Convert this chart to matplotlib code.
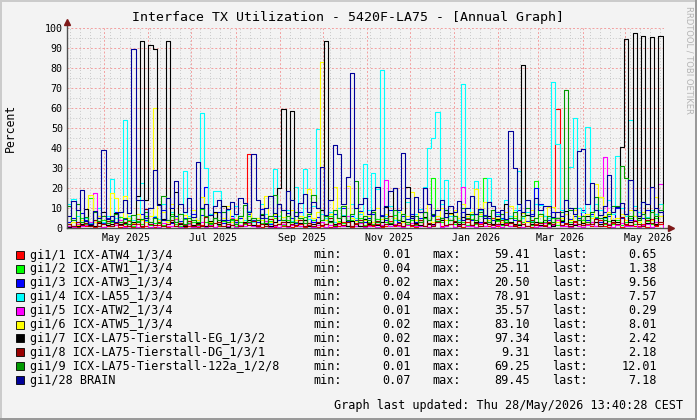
import numpy as np
import matplotlib
matplotlib.use("Agg")
from matplotlib import pyplot as plt
from matplotlib import dates as mdates
from matplotlib.patches import Rectangle

W, H = 697, 420  # output size in pixels
MONO = 'DejaVu Sans Mono'

# time axis: 3 day consolidated steps
start = np.datetime64('2025-04-05')
end = np.datetime64('2026-05-28')
step_days = 3

names = ['gi1/1 ICX-ATW4_1/3/4', 'gi1/2 ICX-ATW1_1/3/4', 'gi1/3 ICX-ATW3_1/3/4',
         'gi1/4 ICX-LA55_1/3/4', 'gi1/5 ICX-ATW2_1/3/4', 'gi1/6 ICX-ATW5_1/3/4',
         'gi1/7 ICX-LA75-Tierstall-EG_1/3/2', 'gi1/8 ICX-LA75-Tierstall-DG_1/3/1',
         'gi1/9 ICX-LA75-Tierstall-122a_1/2/8', 'gi1/28 BRAIN']
colors = ['#FF0000', '#00FF00', '#0000FF', '#00FFFF', '#FF00FF',
          '#FFFF00', '#000000', '#990000', '#009900', '#000099']
mins = [0.01, 0.04, 0.02, 0.04, 0.01, 0.02, 0.02, 0.01, 0.01, 0.07]
maxs = [59.41, 25.11, 20.50, 78.91, 35.57, 83.10, 97.34, 9.31, 69.25, 89.45]
lasts = [0.65, 1.38, 9.56, 7.57, 0.29, 8.01, 2.42, 2.18, 12.01, 7.18]

# percent values, one per 3 days
gi1_1 = [0.5, 1.0, 0.3, 2.0, 0.8, 1.5, 0.4, 3.0, 0.6, 1.2,
         0.8, 2.5, 0.4, 1.0, 3.5, 0.6, 1.8, 0.5, 1.0, 2.0,
         0.7, 1.5, 4.0, 0.5, 1.2, 0.9, 2.5, 0.4, 1.0, 3.0,
         0.6, 1.4, 0.8, 2.2, 0.5, 1.0, 3.5, 0.7, 1.5, 0.4,
         1.0, 2.0, 37.0, 0.8, 1.5, 0.5, 2.5, 1.0, 0.6, 1.8,
         0.9, 3.0, 0.5, 1.2, 2.0, 0.7, 1.5, 4.0, 0.6, 1.0,
         2.0, 0.5, 1.4, 0.8, 3.0, 1.0, 0.6, 2.5, 1.2, 0.7,
         1.5, 0.8, 2.0, 0.5, 1.0, 3.5, 0.9, 1.6, 0.4, 2.2,
         1.0, 0.6, 2.8, 1.2, 0.5, 1.5, 4.5, 0.8, 1.0, 2.0,
         0.7, 1.8, 0.5, 3.0, 1.2, 0.6, 2.0, 1.0, 0.8, 5.0,
         1.2, 0.6, 2.5, 0.9, 1.5, 0.5, 3.0, 1.0, 0.7, 2.0,
         0.8, 1.5, 0.6, 2.2, 59.4, 1.0, 1.8, 0.7, 3.0, 1.0,
         0.6, 2.0, 1.2, 0.8, 4.0, 1.0, 0.5, 2.5, 1.4, 0.7,
         1.5, 3.0, 0.8, 1.2, 2.0, 0.6, 4.5, 1.0, 1.8, 0.7]
gi1_2 = [2.0, 3.0, 1.5, 5.0, 2.0, 15.0, 3.0, 1.0, 4.0, 2.5,
         3.0, 1.5, 5.5, 2.0, 4.0, 1.0, 3.5, 2.0, 6.0, 1.5,
         2.5, 4.0, 1.5, 3.0, 7.0, 2.0, 1.0, 4.5, 2.5, 3.0,
         1.5, 9.5, 3.0, 2.0, 5.0, 1.5, 3.5, 2.0, 4.0, 1.0,
         3.0, 2.0, 6.0, 1.5, 4.0, 2.5, 1.0, 3.5, 5.0, 2.0,
         1.5, 4.0, 2.0, 3.0, 1.0, 5.5, 2.5, 4.0, 1.5, 3.0,
         2.0, 6.0, 1.5, 3.5, 2.5, 1.0, 4.0, 2.0, 5.0, 1.5,
         3.0, 2.0, 4.5, 1.5, 3.0, 2.5, 6.5, 1.0, 3.0, 2.0,
         4.0, 1.5, 3.0, 5.0, 2.0, 25.1, 6.0, 3.0, 1.5, 4.0,
         2.0, 5.0, 3.0, 1.5, 4.5, 2.0, 6.0, 24.8, 3.0, 2.0,
         3.5, 1.5, 4.0, 2.5, 5.0, 2.0, 3.0, 6.5, 1.5, 23.5,
         3.0, 3.0, 2.0, 5.0, 1.5, 4.0, 2.5, 3.0, 6.0, 2.0,
         4.0, 1.5, 3.0, 5.5, 15.5, 2.0, 3.5, 2.0, 4.0, 1.5,
         3.0, 5.0, 2.0, 4.0, 1.5, 3.5, 2.0, 5.0, 3.0, 1.4]
gi1_3 = [3.0, 5.0, 2.0, 7.5, 4.0, 1.5, 3.0, 6.0, 2.5, 5.0,
         3.5, 8.0, 2.0, 4.5, 6.0, 2.5, 3.0, 7.0, 4.0, 2.0,
         5.5, 3.0, 9.0, 4.0, 2.5, 6.0, 3.5, 5.0, 2.0, 7.0,
         4.0, 6.5, 20.5, 3.0, 5.0, 8.0, 2.5, 4.0, 6.0, 3.0,
         5.0, 2.5, 7.0, 4.0, 3.0, 9.5, 5.0, 2.0, 6.0, 4.0,
         3.0, 7.5, 5.0, 2.5, 8.0, 4.0, 6.0, 3.0, 5.5, 9.0,
         4.0, 3.0, 7.0, 5.0, 10.0, 3.5, 6.0, 4.0, 8.5, 3.0,
         5.0, 7.0, 3.0, 6.5, 4.0, 9.0, 5.0, 3.0, 6.0, 4.5,
         7.0, 3.0, 5.0, 8.0, 4.0, 6.0, 3.5, 5.0, 9.0, 4.0,
         6.0, 3.0, 8.0, 5.0, 4.0, 7.0, 3.0, 6.5, 5.0, 4.0,
         8.0, 5.0, 3.0, 6.0, 4.0, 9.0, 5.0, 3.5, 7.0, 20.0,
         12.0, 6.0, 4.0, 8.0, 5.0, 3.0, 7.0, 4.5, 6.0, 5.0,
         9.0, 4.0, 7.0, 5.0, 3.0, 8.0, 6.0, 4.0, 10.0, 5.0,
         7.0, 4.0, 6.0, 8.0, 5.0, 9.0, 4.0, 7.0, 6.0, 9.6]
gi1_4 = [12.0, 14.5, 6.0, 3.0, 5.0, 2.5, 4.0, 10.0, 3.0, 6.0,
         24.3, 5.0, 8.0, 54.0, 6.0, 4.0, 7.0, 22.5, 3.5, 10.0,
         6.0, 4.5, 12.0, 3.0, 8.0, 5.0, 2.5, 28.5, 6.0, 9.0,
         4.0, 57.5, 30.0, 7.0, 18.7, 18.7, 5.0, 9.0, 3.0, 11.0,
         6.0, 4.0, 8.5, 3.0, 5.0, 12.0, 7.0, 2.5, 29.3, 6.0,
         4.0, 9.0, 3.5, 20.7, 6.0, 29.5, 4.5, 11.0, 49.3, 7.0,
         5.0, 8.0, 3.0, 10.0, 6.5, 4.0, 12.0, 5.0, 7.0, 32.0,
         9.0, 27.5, 19.5, 78.9, 6.0, 11.0, 4.0, 8.0, 3.0, 13.0,
         5.0, 7.0, 9.5, 20.7, 40.0, 45.0, 58.0, 12.0, 24.0, 6.0,
         8.0, 4.0, 72.0, 10.0, 6.5, 23.5, 9.0, 5.0, 24.8, 11.0,
         7.0, 4.5, 14.0, 6.0, 9.0, 28.5, 5.0, 8.0, 3.5, 12.0,
         11.5, 6.0, 5.0, 73.0, 42.0, 9.0, 7.0, 30.7, 55.0, 10.0,
         8.0, 50.7, 6.0, 12.0, 9.0, 5.0, 14.0, 7.0, 36.0, 10.0,
         6.0, 54.0, 11.0, 8.0, 13.0, 5.5, 9.0, 7.0, 12.0, 17.7]
gi1_5 = [1.0, 0.5, 2.0, 0.8, 1.5, 3.0, 17.5, 1.0, 0.6, 2.5,
         0.8, 1.5, 4.0, 0.5, 1.2, 2.0, 0.7, 1.0, 3.0, 0.6,
         1.5, 0.5, 2.5, 1.0, 0.8, 4.5, 0.6, 1.2, 2.0, 0.5,
         1.0, 3.0, 0.7, 1.5, 0.5, 2.2, 1.0, 0.8, 5.0, 0.6,
         1.4, 0.8, 2.5, 1.0, 0.5, 1.8, 3.5, 0.7, 1.2, 0.5,
         2.0, 0.6, 1.5, 4.0, 0.8, 1.0, 2.5, 0.5, 1.4, 3.0,
         0.7, 1.5, 0.5, 2.0, 1.0, 6.0, 0.8, 1.2, 2.5, 0.6,
         1.0, 3.0, 0.5, 1.5, 24.0, 0.8, 2.0, 1.0, 0.6, 1.5,
         2.5, 0.8, 1.2, 20.0, 0.6, 1.5, 3.0, 0.7, 1.0, 2.0,
         0.5, 1.5, 20.7, 0.8, 1.2, 0.6, 2.5, 1.0, 4.0, 0.7,
         1.5, 0.5, 2.0, 1.0, 0.8, 3.5, 0.6, 1.2, 2.0, 0.5,
         1.0, 2.5, 0.7, 1.5, 4.0, 0.8, 1.2, 0.5, 2.0, 1.0,
         0.6, 1.5, 3.0, 0.8, 1.2, 35.5, 2.0, 0.7, 1.5, 2.5,
         0.8, 1.2, 4.0, 0.6, 1.5, 2.0, 0.7, 3.0, 22.0, 0.3]
gi1_6 = [2.0, 3.0, 1.5, 4.0, 2.5, 16.5, 3.0, 6.0, 2.0, 4.5,
         17.5, 15.0, 3.0, 16.0, 5.0, 2.5, 7.0, 4.0, 3.0, 6.0,
         60.0, 4.0, 8.0, 3.0, 12.0, 5.0, 2.0, 6.5, 3.5, 9.0,
         4.0, 15.5, 6.0, 3.0, 7.5, 2.0, 5.0, 11.0, 3.0, 4.5,
         6.0, 2.5, 8.0, 3.5, 5.0, 4.0, 16.0, 3.0, 7.0, 2.0,
         5.5, 3.0, 9.0, 4.0, 6.0, 2.5, 19.5, 5.0, 8.0, 83.1,
         4.0, 7.0, 20.7, 3.0, 6.0, 21.0, 5.0, 3.5, 8.0, 4.0,
         6.0, 3.0, 10.0, 4.5, 7.0, 2.5, 5.0, 9.0, 3.0, 6.0,
         18.0, 4.0, 8.0, 5.5, 12.0, 3.0, 6.0, 10.0, 4.0, 7.0,
         9.0, 5.0, 12.0, 6.0, 8.0, 19.3, 7.0, 13.0, 4.0, 9.0,
         5.0, 3.0, 8.0, 11.0, 6.0, 4.0, 7.5, 3.0, 9.0, 5.0,
         6.0, 4.0, 10.5, 10.5, 3.0, 5.0, 7.0, 4.0, 9.0, 6.0,
         3.0, 7.0, 5.0, 22.0, 15.5, 6.0, 8.0, 3.0, 5.0, 7.0,
         4.0, 9.0, 6.0, 3.0, 8.0, 5.0, 4.0, 15.7, 6.0, 8.0]
gi1_7 = [0.6, 1.2, 0.8, 2.1, 9.5, 1.5, 0.9, 2.4, 7.8, 1.3,
         2.0, 7.5, 1.8, 2.5, 1.1, 3.0, 16.0, 93.5, 14.0, 91.5,
         89.3, 12.0, 4.5, 93.5, 3.0, 18.0, 2.2, 1.0, 3.5, 1.4,
         2.5, 1.2, 0.8, 3.4, 8.0, 2.0, 11.0, 0.6, 1.5, 2.0,
         1.1, 2.8, 4.0, 1.5, 0.9, 6.5, 2.2, 1.0, 3.1, 20.0,
         59.5, 3.0, 58.5, 1.5, 2.5, 4.0, 1.2, 2.0, 2.5, 9.0,
         93.5, 3.5, 1.8, 2.5, 6.0, 1.2, 3.3, 2.0, 1.0, 4.5,
         2.2, 8.0, 1.5, 3.0, 10.5, 2.0, 20.0, 4.0, 3.5, 20.7,
         6.0, 2.5, 1.4, 5.5, 2.0, 1.8, 3.5, 4.0, 7.7, 7.7,
         3.0, 2.0, 5.7, 7.0, 1.5, 3.0, 9.5, 2.5, 6.0, 2.0,
         4.5, 1.8, 12.0, 3.0, 2.0, 1.5, 81.5, 6.5, 2.0, 3.0,
         1.5, 4.0, 2.5, 1.0, 5.0, 3.5, 8.5, 2.0, 1.5, 4.0,
         2.5, 6.0, 1.8, 3.0, 2.2, 5.5, 1.5, 4.0, 2.8, 40.5,
         94.3, 3.0, 97.3, 5.0, 96.0, 2.5, 95.5, 1.8, 96.0, 2.4]
gi1_8 = [2.0, 1.0, 3.0, 1.5, 2.5, 0.8, 4.0, 1.2, 2.0, 3.5,
         1.0, 2.5, 1.5, 3.0, 0.8, 2.0, 4.5, 1.2, 9.3, 2.0,
         1.5, 3.0, 0.8, 2.2, 4.0, 1.0, 2.5, 1.5, 3.5, 0.9,
         2.0, 1.2, 5.5, 1.0, 2.5, 3.0, 0.8, 2.0, 1.5, 4.0,
         1.0, 2.5, 1.5, 3.5, 0.8, 2.0, 1.2, 4.5, 1.5, 2.0,
         3.0, 1.0, 2.0, 1.5, 4.0, 0.9, 2.5, 1.2, 3.0, 1.5,
         2.0, 5.0, 1.0, 2.5, 1.5, 3.0, 0.8, 2.0, 4.0, 1.2,
         2.5, 1.5, 3.5, 1.0, 2.0, 6.0, 1.5, 2.5, 1.0, 3.0,
         1.5, 2.0, 4.0, 1.2, 2.5, 1.0, 3.0, 5.0, 1.5, 2.0,
         3.5, 1.0, 2.0, 4.5, 1.5, 2.5, 1.0, 3.0, 2.0, 1.5,
         2.0, 4.0, 1.5, 2.5, 1.0, 3.5, 2.0, 1.2, 4.0, 1.5,
         2.5, 1.0, 3.0, 2.0, 5.0, 1.5, 2.5, 1.0, 3.5, 2.0,
         1.5, 3.0, 2.0, 4.5, 1.0, 2.5, 1.5, 3.0, 2.0, 5.5,
         2.0, 1.5, 3.5, 2.0, 1.0, 4.0, 2.5, 1.5, 3.0, 2.2]
gi1_9 = [11.0, 4.0, 12.0, 3.0, 5.5, 2.0, 8.0, 3.5, 6.0, 2.5,
         4.0, 7.0, 3.0, 5.0, 2.0, 6.5, 3.0, 4.5, 8.0, 3.0,
         5.0, 2.5, 16.0, 4.0, 6.0, 3.0, 7.0, 2.0, 5.0, 4.0,
         3.0, 10.0, 6.0, 2.5, 5.0, 4.0, 8.0, 3.0, 4.5, 2.0,
         6.0, 11.5, 3.0, 5.0, 4.0, 7.0, 2.5, 6.0, 16.5, 12.0,
         4.0, 6.0, 3.0, 8.0, 5.0, 2.5, 7.0, 16.5, 10.0, 4.0,
         6.0, 3.0, 9.0, 5.0, 11.0, 4.0, 7.0, 23.5, 3.0, 6.0,
         4.0, 8.0, 3.0, 6.0, 5.0, 2.5, 9.0, 4.0, 7.0, 3.0,
         5.0, 6.0, 3.0, 8.0, 4.0, 7.0, 3.5, 5.0, 9.0, 4.0,
         6.0, 3.0, 10.0, 5.0, 7.0, 4.0, 8.0, 6.0, 3.0, 9.0,
         4.0, 7.0, 3.0, 5.0, 8.0, 4.0, 6.0, 10.0, 3.0, 5.0,
         7.0, 4.0, 6.0, 3.0, 5.0, 8.0, 69.25, 9.0, 10.0, 4.0,
         6.0, 3.0, 8.0, 15.5, 5.0, 4.0, 7.0, 11.0, 11.0, 31.0,
         25.0, 6.0, 9.0, 4.0, 7.0, 5.0, 8.0, 6.0, 9.0, 12.0]
gi1_28 = [6.0, 13.5, 9.0, 19.0, 3.5, 2.0, 8.5, 5.0, 39.0, 4.5,
          6.0, 3.0, 8.0, 14.0, 7.5, 89.45, 14.0, 14.0, 5.0, 10.0,
          29.0, 11.5, 4.0, 15.0, 10.0, 23.5, 12.0, 8.0, 15.0, 5.5,
          33.0, 10.0, 12.0, 6.5, 11.0, 14.0, 4.0, 9.5, 13.0, 7.0,
          15.0, 12.5, 8.0, 37.0, 14.0, 5.0, 10.0, 16.0, 7.5, 12.0,
          9.0, 18.5, 14.0, 6.0, 12.5, 17.0, 8.0, 13.0, 10.0, 30.3,
          6.5, 14.0, 41.5, 37.0, 12.0, 25.7, 77.5, 10.0, 12.0, 15.0,
          7.0, 9.0, 20.7, 6.0, 11.0, 18.5, 20.0, 9.0, 37.5, 15.0,
          5.0, 15.7, 8.0, 20.0, 12.0, 6.5, 9.0, 14.0, 5.5, 11.0,
          8.0, 13.5, 4.0, 10.0, 16.0, 7.0, 9.5, 5.0, 12.8, 11.0,
          6.0, 9.0, 4.5, 48.7, 30.0, 12.0, 8.0, 14.0, 6.0, 15.0,
          9.0, 11.0, 11.0, 5.5, 8.0, 6.0, 14.0, 10.0, 7.0, 38.7,
          39.5, 12.0, 22.3, 9.0, 6.5, 11.0, 26.5, 8.0, 10.5, 12.5,
          7.0, 24.0, 9.0, 6.0, 13.0, 12.0, 20.6, 10.0, 8.0, 7.2]

series = [gi1_1, gi1_2, gi1_3, gi1_4, gi1_5, gi1_6, gi1_7, gi1_8, gi1_9, gi1_28]


def fx(px):
    return px / W


def fy(py):
    return 1 - py / H


fig = plt.figure(figsize=(W / 100, H / 100), dpi=100, facecolor='#F3F3F3')
ax = fig.add_axes([fx(67), fy(228), (664 - 67) / W, 200 / H])
ax.set_facecolor('#F3F3F3')

for vals, col in zip(series, colors):
    x = start + np.arange(len(vals) + 1) * np.timedelta64(step_days, 'D')
    y = list(vals) + [vals[-1]]  # hold the last step
    ax.step(mdates.date2num(x), y, where='post', color=col, lw=0.8, zorder=3)

ax.set_xlim(mdates.date2num(start), mdates.date2num(end))
ax.set_ylim(0, 100)

# grid: red dashed per month / per 10 %, grey dotted per week / per 5 %
months = np.arange(np.datetime64('2025-05'), np.datetime64('2026-06')).astype('datetime64[D]')
weeks = np.arange(np.datetime64('2025-04-07'), end, 7)
ax.set_xticks(mdates.date2num(months))
ax.set_xticks(mdates.date2num(weeks), minor=True)
ax.set_xticklabels([])
ax.set_yticks(np.arange(0, 101, 10))
ax.set_yticks(np.arange(5, 100, 10), minor=True)
ax.grid(which='minor', color='#C8C8C8', lw=0.7, ls=(0, (1, 2)), zorder=1)
ax.grid(which='major', color='#F2A0A0', lw=0.7, ls=(0, (2, 2)), zorder=2)
ax.tick_params(which='both', length=0)
ax.tick_params(axis='y', labelsize=7.2, pad=3)
for lab in ax.get_yticklabels():
    lab.set_family(MONO)
for s in ax.spines.values():
    s.set_visible(False)

# month labels sit in the middle of the month, every second month
for m in months[::2]:
    mid = m + np.timedelta64(15, 'D') + np.timedelta64(12, 'h')
    ax.text(mdates.date2num(mid), -0.05, np.datetime64(m, 'M').item().strftime('%b %Y'),
            transform=ax.get_xaxis_transform(), ha='center', va='center',
            fontsize=7.2, family=MONO)

# axes with little arrows, rrdtool style
ax.plot([0, 0], [0, 1.03], transform=ax.transAxes, color='#505050', lw=1, clip_on=False, zorder=5)
ax.plot([0, 1.012], [0, 0], transform=ax.transAxes, color='#505050', lw=1, clip_on=False, zorder=5)
ax.plot([0], [1.03], marker='^', ms=4.5, color='#7F1818', transform=ax.transAxes, clip_on=False, zorder=6)
ax.plot([1.012], [0], marker='>', ms=4.5, color='#7F1818', transform=ax.transAxes, clip_on=False, zorder=6)

fig.text(fx(348), fy(18), 'Interface TX Utilization - 5420F-LA75 - [Annual Graph]',
         ha='center', va='center', fontsize=9.5, family=MONO)
fig.text(fx(10), fy(128), 'Percent', rotation=90, ha='center', va='center',
         fontsize=8.3, family=MONO)
fig.text(fx(689), fy(60), 'RRDTOOL / TOBI OETIKER', rotation=270, ha='center', va='center',
         fontsize=6, color='#B4B4B4', family='DejaVu Sans')

# legend rows
for i, (nm, col) in enumerate(zip(names, colors)):
    yy = 255 + 13.9 * i
    fig.add_artist(Rectangle((fx(16), fy(yy + 4)), 8 / W, 8 / H, transform=fig.transFigure,
                             facecolor=col, edgecolor='black', lw=0.6))
    kw = dict(va='center', fontsize=8.5, family=MONO)
    fig.text(fx(30), fy(yy), nm, ha='left', **kw)
    fig.text(fx(313), fy(yy), 'min:', ha='left', **kw)
    fig.text(fx(411), fy(yy), '%.2f' % mins[i], ha='right', **kw)
    fig.text(fx(432), fy(yy), 'max:', ha='left', **kw)
    fig.text(fx(530), fy(yy), '%.2f' % maxs[i], ha='right', **kw)
    fig.text(fx(552), fy(yy), 'last:', ha='left', **kw)
    fig.text(fx(657), fy(yy), '%.2f' % lasts[i], ha='right', **kw)

fig.text(fx(683), fy(406), 'Graph last updated: Thu 28/May/2026 13:40:28 CEST',
         ha='right', va='center', fontsize=8.5, family=MONO)

# 3d-ish frame around the picture
fig.add_artist(Rectangle((0, fy(2)), 1, 2 / H, transform=fig.transFigure, color='#CBCBCB', lw=0))
fig.add_artist(Rectangle((0, 0), 2 / W, 1, transform=fig.transFigure, color='#CBCBCB', lw=0))
fig.add_artist(Rectangle((fx(W - 2), 0), 2 / W, 1, transform=fig.transFigure, color='#999999', lw=0))
fig.add_artist(Rectangle((0, 0), 1, 2 / H, transform=fig.transFigure, color='#999999', lw=0))

fig.savefig('out.png', dpi=100, facecolor=fig.get_facecolor())
